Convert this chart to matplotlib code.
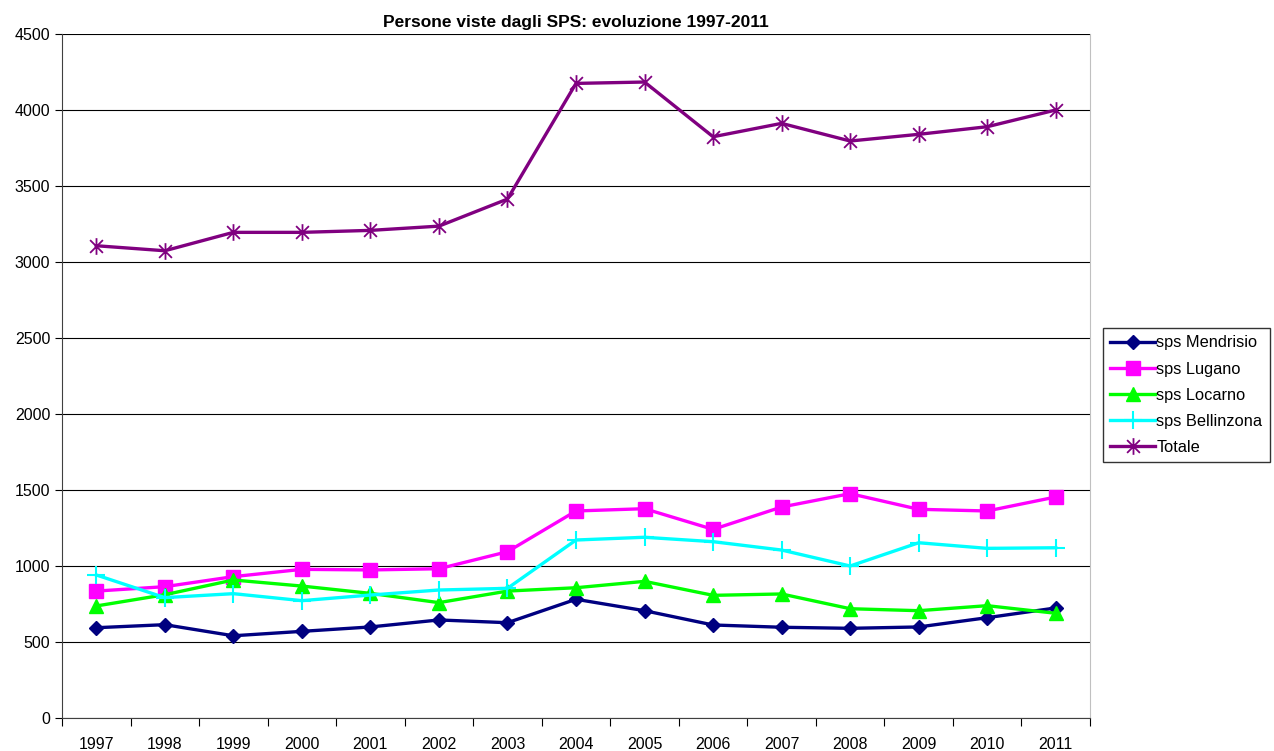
import matplotlib
matplotlib.use("Agg")
import matplotlib.pyplot as plt
import numpy as np
from matplotlib.path import Path

plt.rcParams['font.family'] = ['Liberation Sans', 'DejaVu Sans']

# dati
anni = ["1997", "1998", "1999", "2000", "2001", "2002", "2003", "2004",
        "2005", "2006", "2007", "2008", "2009", "2010", "2011"]
mendrisio = [594, 614, 541, 570, 599, 645, 627, 781, 706, 612, 597, 590, 599, 660, 724]
lugano = [835, 864, 930, 978, 974, 982, 1094, 1362, 1377, 1241, 1388, 1476, 1373, 1362, 1454]
locarno = [737, 811, 908, 868, 820, 759, 835, 857, 899, 807, 816, 719, 706, 739, 689]
bellinzona = [941, 792, 818, 772, 809, 842, 853, 1171, 1189, 1160, 1105, 1000, 1153, 1116, 1120]
totale = [3107, 3074, 3195, 3195, 3208, 3236, 3414, 4175, 4184, 3824, 3912, 3796, 3840, 3890, 4000]

# marker asterisco stile excel (X + linea verticale)
asterisco = Path([(-1, -1), (1, 1), (-1, 1), (1, -1), (0, -1.3), (0, 1.3)],
                 [Path.MOVETO, Path.LINETO, Path.MOVETO, Path.LINETO, Path.MOVETO, Path.LINETO])

fig = plt.figure(figsize=(12.74, 7.51), dpi=100)
ax = fig.add_axes([62/1274, 33/751, (1090-62)/1274, (718-34)/751])

x = np.arange(len(anni))
lw = 2.4
ax.plot(x, mendrisio, color='#000080', lw=lw, marker='D', ms=7.5, label='sps Mendrisio')
ax.plot(x, lugano, color='#FF00FF', lw=lw, marker='s', ms=10, label='sps Lugano')
ax.plot(x, locarno, color='#00FF00', lw=lw, marker='^', ms=10, label='sps Locarno')
ax.plot(x, bellinzona, color='#00FFFF', lw=lw, marker='+', ms=13, mew=1.5, label='sps Bellinzona')
ax.plot(x, totale, color='#800080', lw=lw, marker=asterisco, ms=12, mew=1.3, label='Totale')

ax.set_xlim(-0.5, len(anni) - 0.5)
ax.set_ylim(0, 4500)
ax.set_yticks(np.arange(0, 4501, 500))
ax.yaxis.grid(True, color='black', lw=0.8)
ax.set_axisbelow(True)

# tick tra le categorie, etichette al centro
ax.set_xticks(np.arange(-0.5, len(anni), 1.0))
ax.set_xticklabels([])
ax.set_xticks(x, minor=True)
ax.set_xticklabels(anni, minor=True)
ax.tick_params(axis='x', which='minor', length=0, labelsize=11.5, pad=14)
ax.tick_params(axis='x', which='major', length=6, color='black')
ax.tick_params(axis='y', length=5, labelsize=11.5)

ax.spines['top'].set_visible(False)
ax.spines['right'].set_color('#c0c0c0')
ax.spines['left'].set_color('#404040')
ax.spines['bottom'].set_color('#404040')

ax.set_title('Persone viste dagli SPS: evoluzione 1997-2011', fontsize=12.5,
             fontweight='bold', pad=5)

leg = fig.legend(loc='upper left', bbox_to_anchor=(1103/1274, 1 - 328/751),
                 fontsize=11.8, frameon=True, fancybox=False, edgecolor='black',
                 handlelength=2.7, handletextpad=0.1, borderpad=0.45,
                 labelspacing=0.68, borderaxespad=0)
leg.get_frame().set_linewidth(1)

fig.savefig('out.png', dpi=100)
